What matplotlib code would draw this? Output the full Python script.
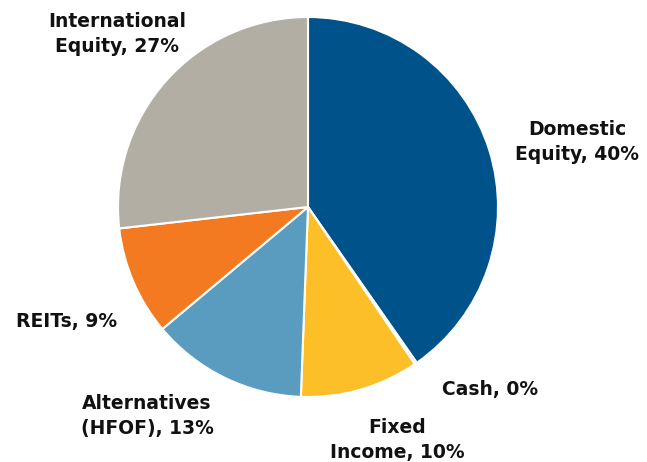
import matplotlib
matplotlib.use("Agg")
import matplotlib.pyplot as plt

categories = ["Domestic\nEquity", "Cash", "Fixed\nIncome", "Alternatives\n(HFOF)", "REITs", "International\nEquity"]
values = [40.3, 0.2, 10.1, 13.3, 9.3, 26.8]
pct_labels = ["40%", "0%", "10%", "13%", "9%", "27%"]
colors = ["#00538A", "#8A8A8A", "#FDBF27", "#5A9BC0", "#F47A22", "#B2AEA4"]

W, H = 647, 462
fig = plt.figure(figsize=(W / 100, H / 100), dpi=100)
cx, cy, r = 308, 207, 190
ax = fig.add_axes([(cx - r) / W, (H - cy - r) / H, 2 * r / W, 2 * r / H])
ax.pie(values, colors=colors, startangle=90, counterclock=False, radius=1,
       wedgeprops=dict(edgecolor="white", linewidth=1.5))
ax.set_xlim(-1, 1)
ax.set_ylim(-1, 1)
ax.set_aspect("equal")
ax.axis("off")

# label positions in pixel coordinates (center)
label_pos = [(577, 142), (490, 389), (397, 440), (147, 416), (67, 322), (117, 34)]
for cat, pct, (px, py) in zip(categories, pct_labels, label_pos):
    fig.text(px / W, 1 - py / H, f"{cat}, {pct}", ha="center", va="center",
             fontsize=13.5, fontweight="bold", color="#111111", linespacing=1.4,
             family="DejaVu Sans")

fig.savefig("out.png", dpi=100)
